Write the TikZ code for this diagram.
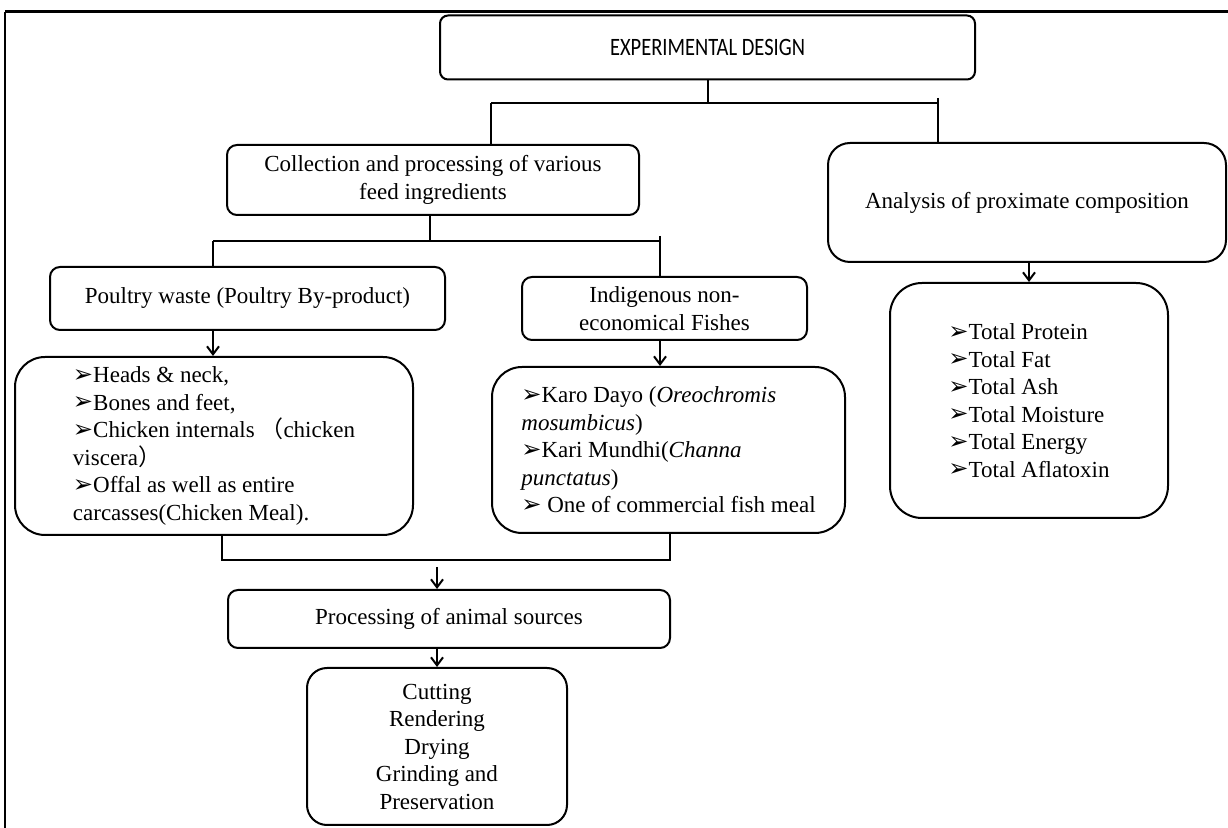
\documentclass[tikz,border=0pt]{standalone}
\usepackage{fontspec}
\setmainfont{Liberation Serif}
\newfontfamily\edfont[FakeStretch=0.82]{Carlito}
\newfontfamily\dvfont{DejaVu Sans}
\newfontfamily\cjkfont{Noto Sans CJK SC}
\usetikzlibrary{arrows.meta,calc}
\newcommand\bul{{\dvfont\raisebox{0.2pt}{\scalebox{1.05}{➢}}}}
\tikzset{
  base/.style={draw, line width=1pt, inner sep=0pt, font=\fontsize{11.5}{13.75}\selectfont},
  box/.style={base, rounded corners=#1, align=center},
  box/.default=5pt,
  lst/.style={base, rounded corners=#1, align=left},
  arr/.style={line width=1pt, -{Straight Barb[length=4pt,width=6pt]}},
  con/.style={line width=1pt},
}
\begin{document}
\begin{tikzpicture}[x=0.5pt,y=-0.5pt]
\useasboundingbox (0,0) rectangle (1228,828);
% frame
\draw[line width=1.5pt] (5,12) -- (1228,12);
\draw[line width=1pt] (5,12) -- (5,828);
% nodes
\node[box=4pt, font=\edfont\fontsize{12.5}{14}\selectfont, minimum width=267.5pt, minimum height=32pt] (ed) at (707.5,47.5) {EXPERIMENTAL DESIGN};
\node[box, minimum width=206pt, minimum height=35pt] (coll) at (433,180) {Collection and processing of various\\feed ingredients};
\node[box, minimum width=197.5pt, minimum height=31.5pt] (pw) at (247.5,298.5) {Poultry waste (Poultry By-product)};
\node[box, minimum width=142.5pt, minimum height=31.5pt] (ind) at (664.5,308.5) {Indigenous non-\\economical Fishes};
\node[box=11pt, minimum width=199pt, minimum height=59.5pt] (an) at (1027,202.5) {Analysis of proximate composition};
\node[lst=15pt, minimum width=199pt, minimum height=89pt] (pl) at (214,446) {\bul Heads \& neck,\\ \bul Bones and feet,\\ \bul Chicken internals {\cjkfont （}chicken\\ viscera{\cjkfont ）}\\ \bul Offal as well as entire\\ carcasses(Chicken Meal).};
\node[lst=15pt, minimum width=176.5pt, minimum height=83pt] (fl) at (668.5,450) {\bul Karo Dayo (\textit{Oreochromis}\\ \textit{mosumbicus})\\ \bul Kari Mundhi(\textit{Channa}\\ \textit{punctatus})\\ \bul\ One of commercial fish meal};
\node[lst=16pt, minimum width=139pt, minimum height=117.5pt] (al) at (1029,400.5) {\bul Total Protein\\ \bul Total Fat\\ \bul Total Ash\\ \bul Total Moisture\\ \bul Total Energy\\ \bul Total Aflatoxin};
\node[box, minimum width=221pt, minimum height=29pt] (pr) at (449,619) {Processing of animal sources};
\node[box=10pt, minimum width=130pt, minimum height=78.5pt] (cu) at (437,746.5) {Cutting\\Rendering\\Drying\\Grinding and\\Preservation};
% junction coordinates
\coordinate (jl) at (491,103);
\coordinate (jr) at (938,103);
\coordinate (jrt) at (938,98);
\coordinate (k) at (430,241);
\coordinate (kl) at (213,241);
\coordinate (kr) at (660,241);
\coordinate (krt) at (660,236);
\coordinate (ml) at (222,560);
\coordinate (mr) at (670,560);
\coordinate (ma) at (437,567);
% connectors
\draw[con] (ed.south) -- (ed.south |- jl);
\draw[con] (jl) -- (jr);
\draw[con] (jl) -- (jl |- coll.north);
\draw[con] (jrt) -- (jrt |- an.north);
\draw[con] (k |- coll.south) -- (k);
\draw[con] (kl) -- (kr);
\draw[con] (kl) -- (kl |- pw.north);
\draw[con] (krt) -- (krt |- ind.north);
\draw[arr] (kl |- pw.south) -- (kl |- pl.north);
\draw[arr] (kr |- ind.south) -- (kr |- fl.north);
\draw[arr] (al.north |- an.south) -- (al.north);
\draw[con] (ml |- pl.south) -- (ml) -- (mr) -- (mr |- fl.south);
\draw[arr] (ma) -- (ma |- pr.north);
\draw[arr] (cu.north |- pr.south) -- (cu.north);
\end{tikzpicture}
\end{document}
